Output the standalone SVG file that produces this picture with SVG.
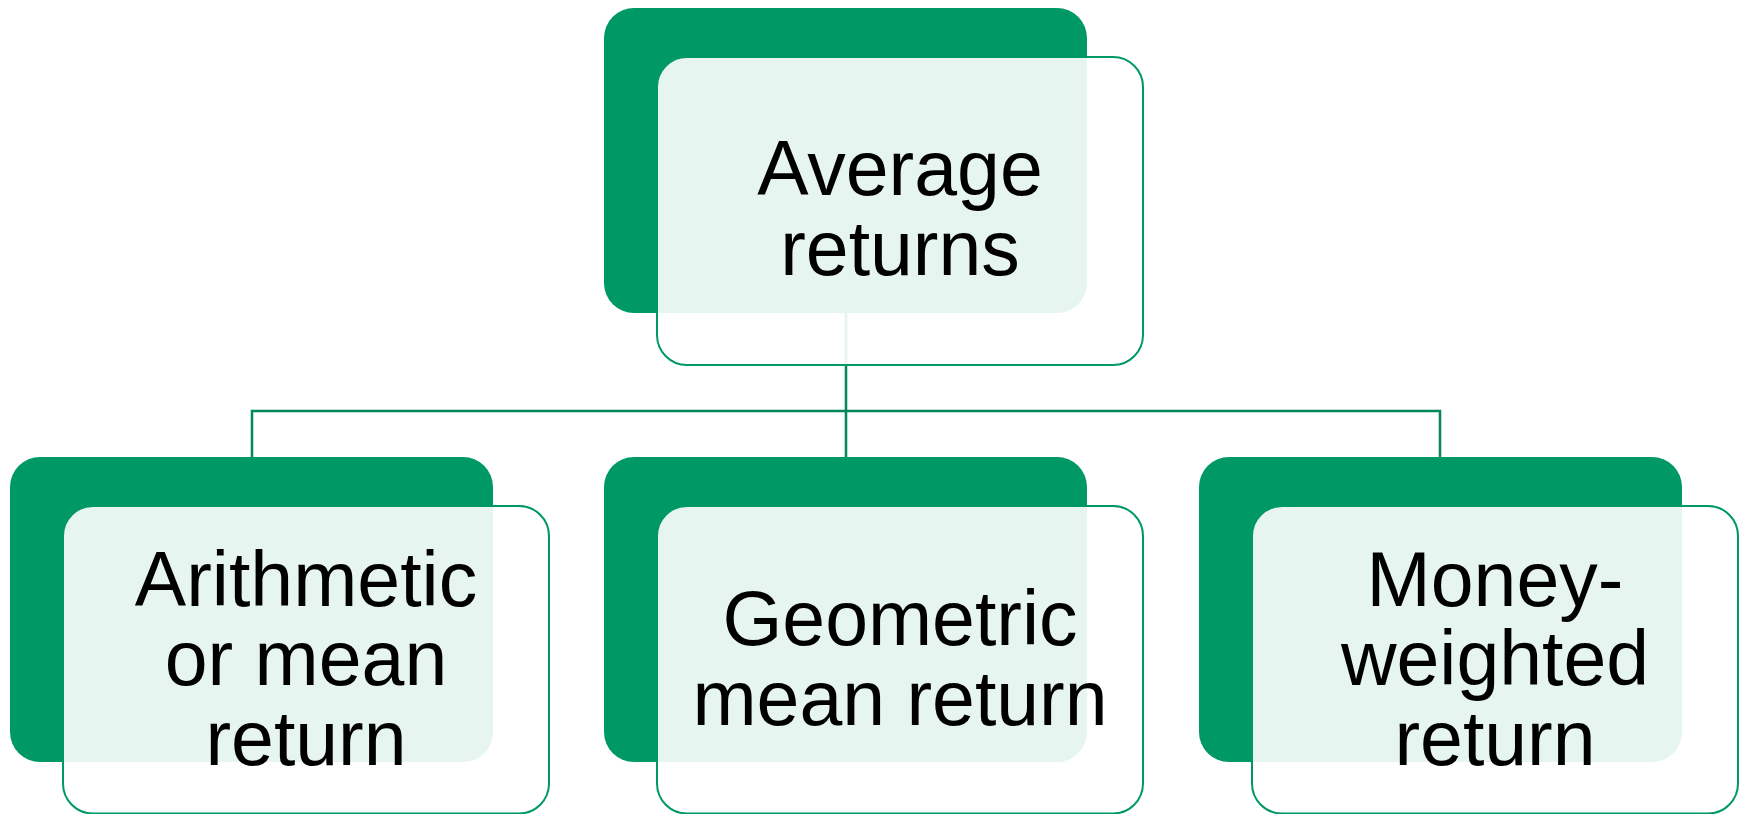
<svg xmlns="http://www.w3.org/2000/svg" width="1745" height="814" viewBox="0 0 1745 814">
<style>
.dark{fill:#009966;}
.card{fill:#ffffff;fill-opacity:0.9;stroke:#009966;stroke-width:2;}
.conn{fill:none;stroke:#00875a;stroke-width:2.5;}
.lbl{font-family:"Liberation Sans",Arial,sans-serif;font-size:77px;fill:#000000;text-anchor:middle;}
</style>
<rect width="1745" height="814" fill="#ffffff"/>
<g id="connectors">
<path class="conn" d="M846 313 V411 M252 457 V411 H1440 V457 M846 411 V457"/>
</g>
<g id="node-average">
<rect class="dark" x="604" y="8" width="483" height="305" rx="30"/>
<rect class="card" x="657" y="57" width="486" height="308" rx="30"/>
<text class="lbl" x="900" y="195">Average</text>
<text class="lbl" x="900" y="275">returns</text>
</g>
<g id="node-arithmetic">
<rect class="dark" x="10" y="457" width="483" height="305" rx="30"/>
<rect class="card" x="63" y="506" width="486" height="307.5" rx="30"/>
<text class="lbl" x="306" y="606">Arithmetic</text>
<text class="lbl" x="306" y="685">or mean</text>
<text class="lbl" x="306" y="765">return</text>
</g>
<g id="node-geometric">
<rect class="dark" x="604" y="457" width="483" height="305" rx="30"/>
<rect class="card" x="657" y="506" width="486" height="307.5" rx="30"/>
<text class="lbl" x="900" y="645">Geometric</text>
<text class="lbl" x="900" y="725">mean return</text>
</g>
<g id="node-money">
<rect class="dark" x="1199" y="457" width="483" height="305" rx="30"/>
<rect class="card" x="1252" y="506" width="486" height="307.5" rx="30"/>
<text class="lbl" x="1495" y="606">Money-</text>
<text class="lbl" x="1495" y="685">weighted</text>
<text class="lbl" x="1495" y="765">return</text>
</g>
</svg>
